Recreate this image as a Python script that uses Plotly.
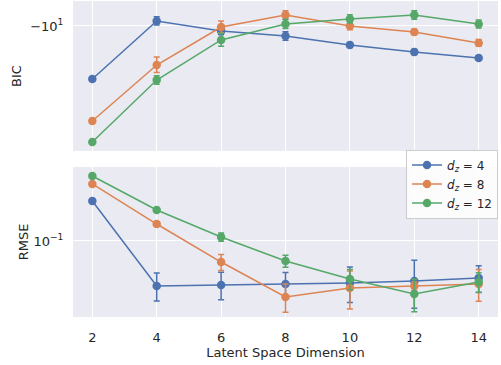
import plotly.graph_objects as go
from plotly.subplots import make_subplots

# Latent space dimensions on the x axis
latent_dims = [2, 4, 6, 8, 10, 12, 14]

# BIC (negative values), mean and spread for each d_z
bic_dz4 = [-15.02, -9.62, -10.39, -10.80, -11.57, -12.21, -12.79]
bic_dz4_err = [0.25, 0.30, 0.30, 0.35, 0.22, 0.25, 0.22]
bic_dz8 = [-20.73, -13.49, -10.08, -9.19, -10.00, -10.47, -11.39]
bic_dz8_err = [0.25, 0.80, 0.45, 0.30, 0.30, 0.22, 0.30]
bic_dz12 = [-24.36, -15.14, -11.13, -9.85, -9.48, -9.19, -9.85]
bic_dz12_err = [0.30, 0.50, 0.55, 0.35, 0.30, 0.30, 0.30]

# RMSE, mean and spread for each d_z
rmse_dz4 = [0.1585, 0.0596, 0.0603, 0.0610, 0.0617, 0.0631, 0.0653]
rmse_dz4_err = [0.003, 0.0095, 0.0095, 0.0085, 0.0125, 0.017, 0.010]
rmse_dz8 = [0.1928, 0.1216, 0.0785, 0.0525, 0.0582, 0.0596, 0.0610]
rmse_dz8_err = [0.003, 0.003, 0.0072, 0.0085, 0.0125, 0.003, 0.011]
rmse_dz12 = [0.2113, 0.1429, 0.1047, 0.0794, 0.0646, 0.0543, 0.0624]
rmse_dz12_err = [0.003, 0.002, 0.005, 0.0055, 0.0075, 0.010, 0.007]

series_names = ["<i>d</i><sub><i>z</i></sub> = 4",
                "<i>d</i><sub><i>z</i></sub> = 8",
                "<i>d</i><sub><i>z</i></sub> = 12"]
colors = ["#4c72b0", "#dd8452", "#55a868"]

bic_series = [(bic_dz4, bic_dz4_err), (bic_dz8, bic_dz8_err), (bic_dz12, bic_dz12_err)]
rmse_series = [(rmse_dz4, rmse_dz4_err), (rmse_dz8, rmse_dz8_err), (rmse_dz12, rmse_dz12_err)]

fig = make_subplots(rows=2, cols=1, shared_xaxes=True, vertical_spacing=0.05)

for i, ((bic, bic_err), (rmse, rmse_err)) in enumerate(zip(bic_series, rmse_series)):
    c = colors[i]
    # BIC is negative: plot its magnitude on a reversed log axis
    fig.add_trace(go.Scatter(
        x=latent_dims, y=[-v for v in bic],
        mode="lines+markers", name=series_names[i], showlegend=False,
        line=dict(color=c, width=1.5), marker=dict(color=c, size=8.5),
        error_y=dict(type="data", array=bic_err, color=c, thickness=1.5, width=3),
    ), row=1, col=1)
    fig.add_trace(go.Scatter(
        x=latent_dims, y=rmse,
        mode="lines+markers", name=series_names[i], showlegend=True,
        line=dict(color=c, width=1.5), marker=dict(color=c, size=8.5),
        error_y=dict(type="data", array=rmse_err, color=c, thickness=1.5, width=3),
    ), row=2, col=1)

font = dict(family="DejaVu Sans", size=13, color="#262626")
axis_common = dict(showgrid=True, gridcolor="white", gridwidth=1, zeroline=False,
                   showline=False, tickfont=font)

fig.update_layout(
    width=501, height=365,
    margin=dict(l=73, r=3, t=1, b=48),
    plot_bgcolor="#eaeaf2", paper_bgcolor="white",
    font=font,
    legend=dict(x=1.0, y=0.53, xanchor="right", yanchor="top",
                bgcolor="rgba(255,255,255,0.85)", bordercolor="#cccccc", borderwidth=1,
                font=dict(family="DejaVu Sans", size=12, color="#262626"),
                tracegroupgap=0, itemwidth=30),
)

fig.update_xaxes(**axis_common, range=[1.4, 14.6], tickvals=latent_dims,
                 ticks="outside", ticklen=8, tickcolor="rgba(0,0,0,0)")
fig.update_xaxes(showticklabels=False, ticks="", row=1, col=1)
fig.update_xaxes(title=dict(text="Latent Space Dimension", font=font, standoff=0), row=2, col=1)

fig.update_yaxes(**axis_common, ticks="outside", ticklen=6, tickcolor="rgba(0,0,0,0)")
fig.update_yaxes(type="log", range=[1.4167, 0.9167], tickvals=[10],
                 ticktext=["\u221210<sup>1</sup>"],
                 title=dict(text="BIC", font=font, standoff=5), row=1, col=1)
fig.update_yaxes(type="log", range=[-1.38, -0.63], tickvals=[0.1],
                 ticktext=["10<sup>\u22121</sup>"],
                 title=dict(text="RMSE", font=font, standoff=1), row=2, col=1)

fig.update_layout(yaxis=dict(domain=[0.5253, 1.0]), yaxis2=dict(domain=[0.0, 0.4747]))

fig.write_html("out.html")
